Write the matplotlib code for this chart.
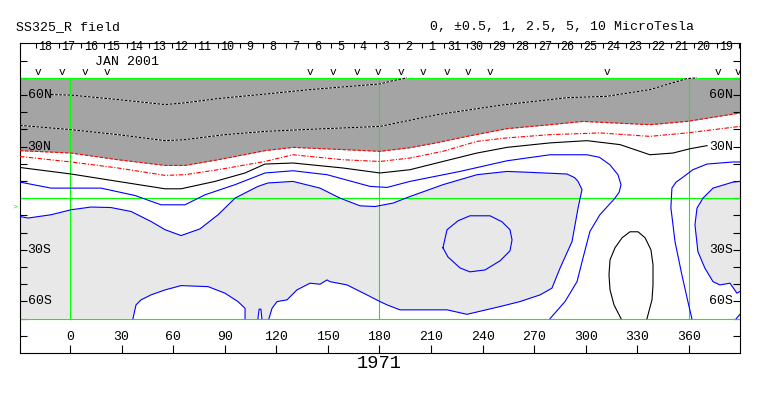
import numpy as np
import matplotlib
matplotlib.use("Agg")
import matplotlib.pyplot as plt

plt.rcParams['font.family'] = ['Liberation Mono', 'DejaVu Sans Mono']

# Carrington longitude / latitude of each traced contour
dot1_lon = [-11.1, 0.6, 27.9, 55.3, 66.9, 86.1, 110.5, 139.6, 180.3, 187.9, 196.0]
dot1_lat = [60.3, 60.0, 57.4, 54.5, 55.5, 58.0, 60.3, 63.2, 66.5, 68.4, 70.0]

dot2_lon = [-29.1, 0.6, 27.9, 55.3, 66.9, 90.1, 113.4, 139.6, 180.3, 213.4, 250.1, 289.1, 312.3, 337.3, 358.8, 364.7]
dot2_lat = [42.4, 39.9, 37.0, 33.5, 34.1, 37.0, 38.9, 40.1, 41.8, 48.6, 54.1, 58.5, 59.3, 63.2, 69.6, 70.0]

red1_lon = [-29.1, 0.6, 27.9, 55.3, 66.9, 86.1, 113.4, 129.7, 158.8, 180.3, 197.7, 213.4, 230.9, 254.2, 279.2, 298.4, 337.3, 358.8, 389.7]
red1_lat = [27.7, 26.3, 22.4, 19.1, 19.1, 22.4, 27.7, 29.6, 28.3, 27.3, 29.4, 32.3, 36.0, 40.5, 42.8, 44.7, 42.8, 44.7, 49.6]

red2_lon = [-29.1, 0.6, 27.9, 55.3, 66.9, 86.1, 113.4, 129.7, 158.8, 180.3, 197.7, 216.9, 236.7, 254.2, 279.2, 308.2, 337.3, 358.8, 389.7]
red2_lat = [24.3, 21.1, 17.6, 13.3, 13.7, 16.6, 21.4, 25.3, 22.4, 21.4, 23.4, 27.3, 33.1, 35.1, 37.0, 38.0, 36.0, 38.0, 41.8]

neutral_lon = [-29.1, 0.6, 27.9, 55.3, 64.6, 84.3, 101.8, 113.4, 129.7, 158.8, 180.3, 197.7, 216.9, 236.7, 254.2, 279.2, 300.7, 319.9, 337.3, 350.7, 360.6, 370.5]
neutral_lat = [17.9, 14.1, 9.8, 5.5, 5.5, 9.8, 14.7, 19.9, 20.5, 17.6, 14.7, 16.6, 21.4, 26.3, 29.6, 32.2, 33.5, 31.2, 25.3, 26.3, 28.8, 30.6]

blue1a_lon = [-29.1, -11.1, 18.0, 37.8, 52.9, 66.9, 78.5, 96.0, 113.4, 129.7, 149.5, 174.5, 184.4, 197.7, 226.8, 254.2,
              279.2, 300.7, 308.0, 314.0, 318.7, 320.5, 319.4, 317.0, 308.2, 302.4, 298.4, 294.9, 287.9, 279.2]
blue1a_lat = [9.4, 5.9, 5.9, 1.6, -3.8, -3.8, 2.0, 7.9, 14.7, 16.0, 13.7, 6.9, 6.3, 9.8, 15.6, 21.8,
              25.3, 25.3, 23.8, 19.5, 13.7, 7.9, 3.5, 0.1, -9.6, -19.3, -34.7, -48.5, -60.1, -70.0]

blue1b_lon = [361.7, 359.4, 355.9, 351.9, 349.5, 350.1, 352.5, 355.9, 362.3, 370.5, 385.6, 389.7]
blue1b_lat = [-70.0, -60.1, -44.6, -25.2, -5.5, 5.9, 9.4, 11.8, 16.6, 19.9, 21.1, 21.1]

blue2_lon = [-29.1, -24.4, -11.1, 0.6, 12.2, 23.8, 35.5, 47.1, 55.3, 64.6, 75.6, 86.1, 96.0, 109.3, 115.2, 129.7,
             145.4, 157.0, 168.7, 177.4, 187.9, 197.7, 216.9, 236.7, 254.2, 269.3, 289.1, 293.5, 295.5, 297.8, 295.5,
             292.0, 285.0, 280.3, 273.4, 261.7, 250.1, 230.9, 219.3, 191.9, 184.4, 180.3, 172.7, 161.1, 151.2,
             149.5, 145.4, 139.6, 132.0, 126.2, 120.4, 117.5, 115.7]
blue2_lat = [-10.6, -11.5, -9.6, -6.7, -5.1, -5.4, -7.7, -13.5, -18.3, -21.7, -17.8, -9.6, 0.1, 6.9, 8.9, 9.8,
             5.9, 0.1, -4.4, -4.8, -2.8, 1.0, 7.9, 13.7, 15.6, 15.0, 14.1, 12.0, 9.8, 5.0, -5.7,
             -25.2, -40.7, -52.3, -56.2, -60.1, -63.0, -67.5, -64.9, -64.9, -62.0, -60.1, -56.2, -50.4, -48.5,
             -47.5, -50.0, -49.4, -53.3, -59.1, -60.1, -64.0, -70.0]

bump_lon = [101.8, 101.8, 97.7, 90.1, 80.3, 64.6, 55.3, 47.1, 41.3, 38.4, 36.6]
bump_lat = [-70.0, -64.0, -60.1, -55.2, -51.4, -50.8, -53.3, -56.2, -59.1, -62.0, -70.0]

spike_lon = [109.3, 110.0, 111.0, 111.6]
spike_lat = [-70.0, -64.5, -64.5, -70.0]

circle_lon = [216.9, 219.3, 225.7, 232.6, 244.3, 251.3, 255.9, 257.1, 255.9, 250.1, 241.4, 232.6, 226.8, 219.8, 216.9]
circle_lat = [-28.8, -18.3, -13.1, -10.2, -10.2, -13.7, -18.3, -24.2, -30.6, -36.4, -41.7, -42.8, -40.5, -34.1, -28.8]

rgray_lon = [389.7, 385.6, 374.0, 368.2, 364.7, 363.5, 365.2, 369.3, 374.0, 378.0, 383.9, 387.9, 389.7]
rgray_lat = [9.8, 9.4, 5.9, 0.1, -5.7, -15.4, -31.0, -40.7, -48.5, -50.4, -49.4, -55.2, -54.2]

corner_lon = [387.5, 389.7]
corner_lat = [-70.0, -67.5]

oval_lon = [320.5, 316.4, 314.1, 313.5, 314.1, 317.0, 321.1, 325.7, 330.4, 334.5, 337.9, 339.1, 339.1, 338.5, 335.6]
oval_lat = [-70.0, -62.0, -53.3, -44.6, -35.8, -28.8, -23.0, -19.5, -19.5, -23.0, -30.0, -38.7, -50.4, -59.1, -70.0]

# axis annotations
lon_ticks = [0, 30, 60, 90, 120, 150, 180, 210, 240, 270, 300, 330, 360]
lat_labels = {60: '60N', 30: '30N', -30: '30S', -60: '60S'}
grid_lons = [0, 180, 360]
grid_lats = [-70, 0, 70]
days = [18, 17, 16, 15, 14, 13, 12, 11, 10, 9, 8, 7, 6, 5, 4, 3, 2, 1,
        31, 30, 29, 28, 27, 26, 25, 24, 23, 22, 21, 20, 19]
day0_lon = -19.8          # first day boundary
day_step = 13.2           # degrees of Carrington longitude per day
obs_lon = [-18.8, -4.8, 8.7, 21.3, 139.6, 153.1, 166.7, 179.3, 192.3, 205.5, 219.1, 231.7, 244.3, 312.1, 377.0, 388.7]
earth_lat = -5.0

LON_MIN, LON_MAX = -29.1, 389.7
DARK = '#a4a4a4'
LIGHT = '#e8e8e8'
GREEN = '#00ff00'

fig = plt.figure(figsize=(7.63, 3.96), dpi=100)
ax = fig.add_axes([20 / 763, (396 - 353) / 396, 720 / 763, 310 / 396])
ax.set_xlim(LON_MIN, LON_MAX)
ax.set_ylim(-90, 90.3)
for s in ax.spines.values():
    s.set_linewidth(0.8)

# shaded regions
ax.fill_between(red1_lon, red1_lat, 70, color=DARK, lw=0, zorder=1)
ax.fill(blue2_lon + bump_lon + [LON_MIN], blue2_lat + bump_lat + [-70], color=LIGHT, lw=0, zorder=1)
ax.fill(rgray_lon, rgray_lat, color=LIGHT, lw=0, zorder=1)
ax.fill(spike_lon, spike_lat, color='white', lw=0, zorder=1)

# reference grid
for la in grid_lats:
    ax.plot([LON_MIN, LON_MAX], [la, la], color=GREEN, lw=0.8, zorder=2)
ax.vlines(grid_lons, -70, 70, color=GREEN, lw=0.8, zorder=2)

# contours
lw = 0.8
for lo, la in [(dot1_lon, dot1_lat), (dot2_lon, dot2_lat)]:
    ax.plot(lo, la, color='white', lw=lw, zorder=3)
    ax.plot(lo, la, color='black', lw=lw, dashes=(2.5, 1.2), zorder=3)
ax.plot(red1_lon, red1_lat, color='red', lw=lw, dashes=(3, 1.5), zorder=3)
ax.plot(red2_lon, red2_lat, color='red', lw=lw, dashes=(4, 1.5, 1, 1.5), zorder=3)
ax.plot(neutral_lon, neutral_lat, color='black', lw=lw, zorder=3)
ax.plot(oval_lon, oval_lat, color='black', lw=lw, zorder=3)
for lo, la in [(blue1a_lon, blue1a_lat), (blue1b_lon, blue1b_lat), (blue2_lon, blue2_lat),
               (bump_lon, bump_lat), (spike_lon, spike_lat), (circle_lon, circle_lat),
               (rgray_lon, rgray_lat), (corner_lon, corner_lat)]:
    ax.plot(lo, la, color='blue', lw=lw, zorder=3)

# latitude ticks both sides
ax.set_yticks(range(-80, 81, 10))
ax.tick_params(axis='y', direction='in', length=5, width=0.8, left=True, right=True,
               labelleft=False, labelright=False)
for la, txt in lat_labels.items():
    ax.text(0.0105, la, txt, transform=ax.get_yaxis_transform(), ha='left', va='center', fontsize=9.5)
    ax.text(0.9905, la, txt, transform=ax.get_yaxis_transform(), ha='right', va='center', fontsize=9.5)

# longitude ticks along the bottom
ax.set_xticks(lon_ticks)
ax.tick_params(axis='x', direction='in', length=6, width=0.8, labelbottom=False)
for lo in lon_ticks:
    ax.text(lo, -80.6, str(lo), ha='center', va='center', fontsize=9.5)
ax.text(180, -96.3, '1971', ha='center', va='center', fontsize=13.5, clip_on=False)

# day scale along the top
day_bounds = [day0_lon + day_step * k for k in range(len(days) + 1)]
top = ax.secondary_xaxis('top')
top.set_xticks(day_bounds)
top.tick_params(direction='in', length=3.8, width=0.8, labeltop=False)
top.spines['top'].set_visible(False)
for k, d in enumerate(days):
    ax.text(day_bounds[k] + 5.5, 88.2, str(d), ha='center', va='center', fontsize=8.5)
ax.text(33.4, 79.5, 'JAN 2001', ha='center', va='center', fontsize=9.5)
for lo in obs_lon:
    ax.text(lo, 73.3, 'v', ha='center', va='center', fontsize=8, clip_on=True)
ax.text(LON_MIN - 1.2, earth_lat, '>', color=GREEN, ha='right', va='center', fontsize=6, clip_on=False)

fig.text(16 / 763, 1 - 27 / 396, 'SS325_R field', ha='left', va='center', fontsize=9.5)
fig.text(430 / 763, 1 - 27 / 396, '0, \u00b10.5, 1, 2.5, 5, 10 MicroTesla', ha='left', va='center', fontsize=9.5)

fig.savefig('out.png', dpi=100)
